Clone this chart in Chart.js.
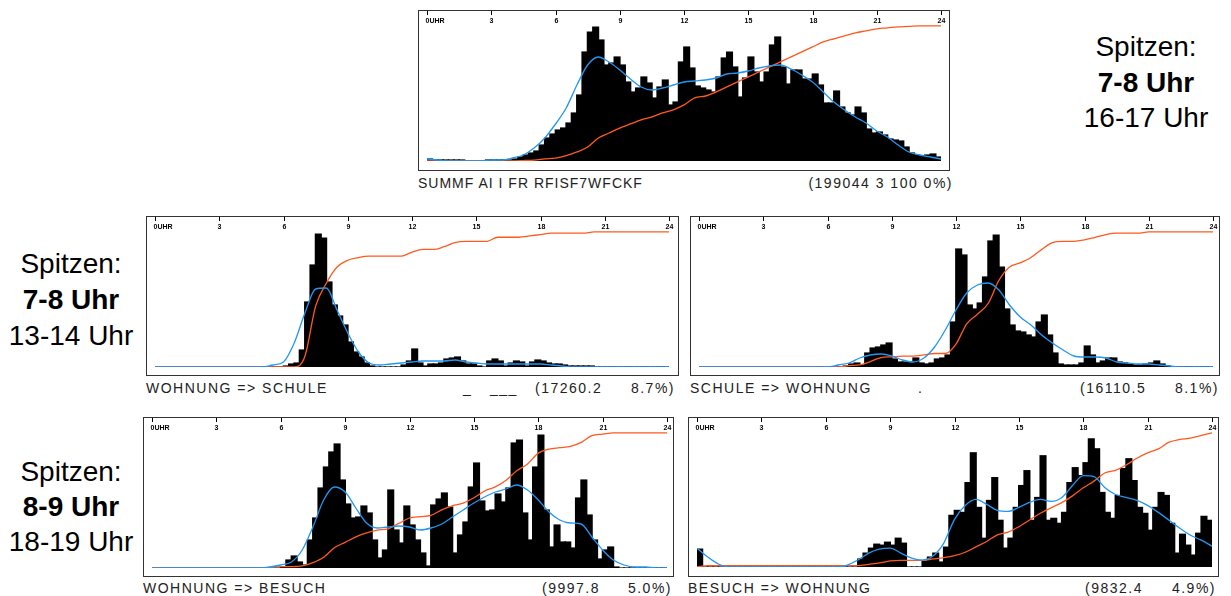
<!DOCTYPE html>
<html>
<head>
<meta charset="utf-8">
<script src="https://cdn.jsdelivr.net/npm/chart.js@4.4.1/dist/chart.umd.min.js"></script>
<style>
  body { margin: 0; background: #fff; width: 1231px; height: 596px; position: relative; overflow: hidden;
         font-family: "Liberation Sans", Arial, sans-serif; }
  .panel { position: absolute; border: 1px solid #333; box-sizing: border-box; }
  .cap { position: absolute; font-size: 14px; line-height: 14px; letter-spacing: 1.5px; color: #222; white-space: pre; }
  .side { position: absolute; width: 140px; text-align: center; font-size: 28px; color: #000; }
</style>
</head>
<body>

<div class="panel" id="pSum" style="left:418px;top:10px;width:532px;height:161px"><canvas id="cSum"></canvas></div>
<div class="panel" id="pSch" style="left:146px;top:216px;width:533px;height:160px"><canvas id="cSch"></canvas></div>
<div class="panel" id="pSchW" style="left:690px;top:216px;width:530px;height:160px"><canvas id="cSchW"></canvas></div>
<div class="panel" id="pBes" style="left:143px;top:417px;width:531px;height:160px"><canvas id="cBes"></canvas></div>
<div class="panel" id="pBesW" style="left:688px;top:417px;width:531px;height:160px"><canvas id="cBesW"></canvas></div>

<div class="cap" style="left:418px;top:176px;letter-spacing:1px">SUMMF AI I FR RFISF7WFCKF</div>
<div class="cap" style="right:278px;top:176px">(199044 3 100 0%)</div>

<div class="cap" style="left:146px;top:381px">WOHNUNG =&gt; SCHULE</div>
<div class="cap" style="left:463px;top:381px">_</div>
<div class="cap" style="left:490px;top:381px">___</div>
<div class="cap" style="left:535px;top:381px">(17260.2</div>
<div class="cap" style="right:556px;top:381px">8.7%)</div>

<div class="cap" style="left:690px;top:381px">SCHULE =&gt; WOHNUNG</div>
<div class="cap" style="left:918px;top:381px">.</div>
<div class="cap" style="left:1080px;top:381px">(16110.5</div>
<div class="cap" style="right:12px;top:381px">8.1%)</div>

<div class="cap" style="left:143px;top:581px">WOHNUNG =&gt; BESUCH</div>
<div class="cap" style="left:542px;top:581px">(9997.8</div>
<div class="cap" style="right:559px;top:581px">5.0%)</div>

<div class="cap" style="left:688px;top:581px">BESUCH =&gt; WOHNUNG</div>
<div class="cap" style="left:1085px;top:581px">(9832.4</div>
<div class="cap" style="right:15px;top:581px">4.9%)</div>

<div class="side" style="left:1076px;top:29px;line-height:35.5px">Spitzen:<br><b>7-8 Uhr</b><br>16-17 Uhr</div>
<div class="side" style="left:1px;top:246px;line-height:36px">Spitzen:<br><b>7-8 Uhr</b><br>13-14 Uhr</div>
<div class="side" style="left:1px;top:454px;line-height:35px">Spitzen:<br><b>8-9 Uhr</b><br>18-19 Uhr</div>

<script>
// tick labels along the top of every panel
const hourTicks = [0, 3, 6, 9, 12, 15, 18, 21, 24];
const hourLabels = ["0UHR", "3", "6", "9", "12", "15", "18", "21", "24"];

// histograms, 15-minute bins from 0:00 to 24:00 (relative height)
const sumBars = [
  2,1,1,1, 1,1,1,0, 0,0,0,1, 1,1,1,1,
  2,4,6,8, 10,16,23,27, 31,33,38,48, 66,109,129,134,
  121,96,98,104, 96,79,69,73, 84,78,63,74, 81,56,59,99,
  114,93,75,73, 71,69,84,103, 109,94,64,83, 104,89,79,89,
  116,124,94,77, 91,91,82,82, 87,76,58,58, 70,54,48,46,
  54,48,32,28, 29,26,22,21, 20,14,8,6, 5,6,7,4
];
const schBars = [
  0,0,0,0, 0,0,0,0, 0,0,0,0, 0,0,0,0, 0,0,0,0, 0,0,0,0,
  1,3,4,17, 65,102,133,129, 85,62,51,42, 25,15,10,4,
  1,0,0,0, 0,0,2,6, 18,4,1,3, 3,4,8,9,
  10,6,3,3, 1,0,6,8, 6,1,4,6, 5,1,5,7,
  6,4,3,3, 2,1,1,1, 1,1,0,0, 0,0,0,0, 0,0,0,0, 0,0,0,0
];
const schWBars = [
  0,0,0,0, 0,0,0,0, 0,0,0,0, 0,0,0,0, 0,0,0,0, 0,0,0,0,
  0,0,0,1, 3,4,2,14, 19,20,22,24, 8,5,5,5,
  9,4,3,4, 8,9,12,45, 118,112,62,58, 64,90,126,132,
  100,58,42,36, 35,32,30,45, 52,32,14,3, 2,2,2,4,
  21,12,4,6, 9,9,5,4, 3,2,2,3, 4,6,3,1, 0,0,0,0, 0,0,0,0
];
const besBars = [
  0,0,0,0, 0,0,0,0, 0,0,0,0, 0,0,0,0, 0,0,0,0, 0,0,0,0,
  1,8,12,6, 3,28,50,80, 101,116,124,88, 64,50,51,62,
  55,28,10,18, 78,38,25,62, 43,28,15,2, 63,69,75,61,
  15,33,46,81, 105,67,57,58, 74,66,80,125, 128,55,28,101,
  133,58,21,43, 26,26,20,70, 88,53,28,9, 18,21,1,0, 0,0,0,0, 0,0,0,0
];
const besWBars = [
  18,0,0,0, 0,0,0,0, 0,0,0,0, 0,0,0,0, 0,0,0,0, 0,0,0,0,
  0,0,0,0, 0,0,8,14, 19,23,22,25, 22,29,24,0,
  0,0,6,10, 14,5,20,52, 57,55,85,115, 60,29,67,90,
  47,19,29,60, 82,97,47,70, 112,47,49,44, 55,85,100,92,
  105,129,119,75, 55,49,72,99, 109,87,60,54, 37,60,75,72, 44,14,33,22, 12,34,51,47
];

// smoothed curves (blue), every half hour 0:00 .. 24:00
const sumSmooth = [2,1,0,0,0,0,1,1,3,6, 13,23,37,53,76,96,104,99,91,82, 74,71,73,76,79,80,81,83,87,88,
  90,93,95,96,92,86,79,69,59,51, 44,38,30,24,16,9,6,4,2];
const schSmooth = [0,0,0,0,0,0,0,0,0,0,0, 2,5,24,54,78,79,57,34,15,4,
  2,3,4,5,6,6,6,7,5,4,3,3,3,3,3,3,2,1, 0,0,0,0,0,0,0,0,0,0];
const schWSmooth = [0,0,0,0,0,0,0,0,0,0,0,0,0, 2,4,9,12,13,11,7,5,9,20,37,57,74,82,84,77,62,50,42,32,24,17,11,10,10,9,5,4,3,3,2,1, 0,0,0,0];
const besSmooth = [0,0,0,0,0,0,0,0,0,0,0, 1,3,6,18,41,68,81,76,60,45,40,41,42,41,38,40,44,51,58,65,71,76,79,83,78,68,56,48,45,44,31,18,8,3,1,1, 0,0];
const besWSmooth = [19,10,3,0, 0,0,0,0,0,0,0,0,0,0, 2,7,14,18,19,14,9,7,11,24,48,62,68,63,57,56,60,65,68,66,70,82,92,91,80,73,70,67,62,55,47,39,32,27,21];

// cumulative share in percent (orange), every half hour 0:00 .. 24:00
const sumCum = [0,0,0,0,0,0,0,0,0, 0.3,0.7,1.5,2.2,4,6.7,10.4,17,20.7,24.4,27.4,30.4,32.6,35.6,37.8,41.5,46.7,48.1,51.1,54.8,58.5,
  62.2,65.9,69.6,73.3,77,80.7,84.4,88.1,90.4,92.6,94.8,96.3,97.8,98.5,99.3,99.6,100,100,100];
const schCum = [0,0,0,0,0,0,0,0,0,0,0,0,0,0, 8,45,62,74,79,81,82,82,82,82,85,87,87,89,92,93,93,93,96,96,96,97,98,99,99,99,99,100, 100,100,100,100,100,100,100];
const schWCum = [0,0,0,0,0,0,0,0,0,0,0,0,0,0, 1,1.5,4,7,7.5,8,8,9,10,10,17,32,39,47,64,74,77,81,87,92,93,93,94,96,98,99,99,99, 100,100,100,100,100,100,100];
const besCum = [0,0,0,0,0,0,0,0,0,0,0, 0.4,1,1,1.5,4,8,15,19,23,26,28,29,33,37,38,39,43,46,48,52,57,60,65,72,77,85,88,89,90,93,98,99, 100,100,100,100,100,100];
const besWCum = [0,1, 1,1,1,1,1,1,1,1,1,1,1,1,1, 1,2,3,4.5,5,5,5,6,7,8.5,11,15,19,24,26,30,35,40,44,48,53,59,64,70,72,76,81,85,88,93,95,96,98,100];

const halfHours = Array.from({ length: 49 }, (_, i) => i / 2);

const tickPlugin = {
  id: "uhrTicks",
  afterDraw(chart) {
    const ctx = chart.ctx;
    const xs = chart.scales.x;
    const top = chart.chartArea.top;
    ctx.save();
    ctx.strokeStyle = "#000";
    ctx.fillStyle = "#000";
    ctx.lineWidth = 1;
    ctx.font = 'bold 7px "Liberation Sans", Arial, sans-serif';
    ctx.textBaseline = "middle";
    hourTicks.forEach((h, i) => {
      const x = Math.round(xs.getPixelForValue(h)) + 0.5;
      ctx.beginPath();
      ctx.moveTo(x, top);
      ctx.lineTo(x, top + 4);
      ctx.stroke();
      ctx.textAlign = i === 0 ? "left" : "center";
      ctx.fillText(hourLabels[i], i === 0 ? x - 2 : x, top + 10);
    });
    ctx.restore();
  }
};

function drawPanel(id, bars, smooth, cum, pad) {
  new Chart(document.getElementById(id), {
    type: "bar",
    data: {
      datasets: [
        {
          type: "line",
          data: halfHours.map((h, i) => ({ x: h, y: smooth[i] })),
          borderColor: "#2196f3",
          borderWidth: 1.3,
          pointRadius: 0,
          cubicInterpolationMode: "monotone",
          yAxisID: "y",
          order: 0
        },
        {
          type: "line",
          data: halfHours.map((h, i) => ({ x: h, y: cum[i] })),
          borderColor: "#ff5a1e",
          borderWidth: 1.3,
          pointRadius: 0,
          cubicInterpolationMode: "monotone",
          yAxisID: "y2",
          order: 1
        },
        {
          type: "bar",
          data: bars.map((v, i) => ({ x: i * 0.25 + 0.125, y: v })),
          backgroundColor: "#000",
          borderWidth: 0,
          inflateAmount: 0.6,
          barPercentage: 1.1,
          categoryPercentage: 1,
          yAxisID: "y",
          order: 2
        }
      ]
    },
    options: {
      responsive: true,
      maintainAspectRatio: false,
      animation: false,
      layout: { padding: pad },
      plugins: { legend: { display: false }, tooltip: { enabled: false } },
      scales: {
        x: { type: "linear", min: 0, max: 24, offset: false, display: false },
        y: { min: 0, max: 150, display: false },
        y2: { min: 0, max: 111, display: false }
      }
    },
    plugins: [tickPlugin]
  });
}

drawPanel("cSum", sumBars, sumSmooth, sumCum, { left: 8, right: 8, top: 0, bottom: 9 });
drawPanel("cSch", schBars, schSmooth, schCum, { left: 8, right: 9, top: 0, bottom: 8 });
drawPanel("cSchW", schWBars, schWSmooth, schWCum, { left: 8, right: 6, top: 0, bottom: 8 });
drawPanel("cBes", besBars, besSmooth, besCum, { left: 8, right: 6, top: 0, bottom: 8 });
drawPanel("cBesW", besWBars, besWSmooth, besWCum, { left: 8, right: 6, top: 0, bottom: 9 });
</script>
</body>
</html>
